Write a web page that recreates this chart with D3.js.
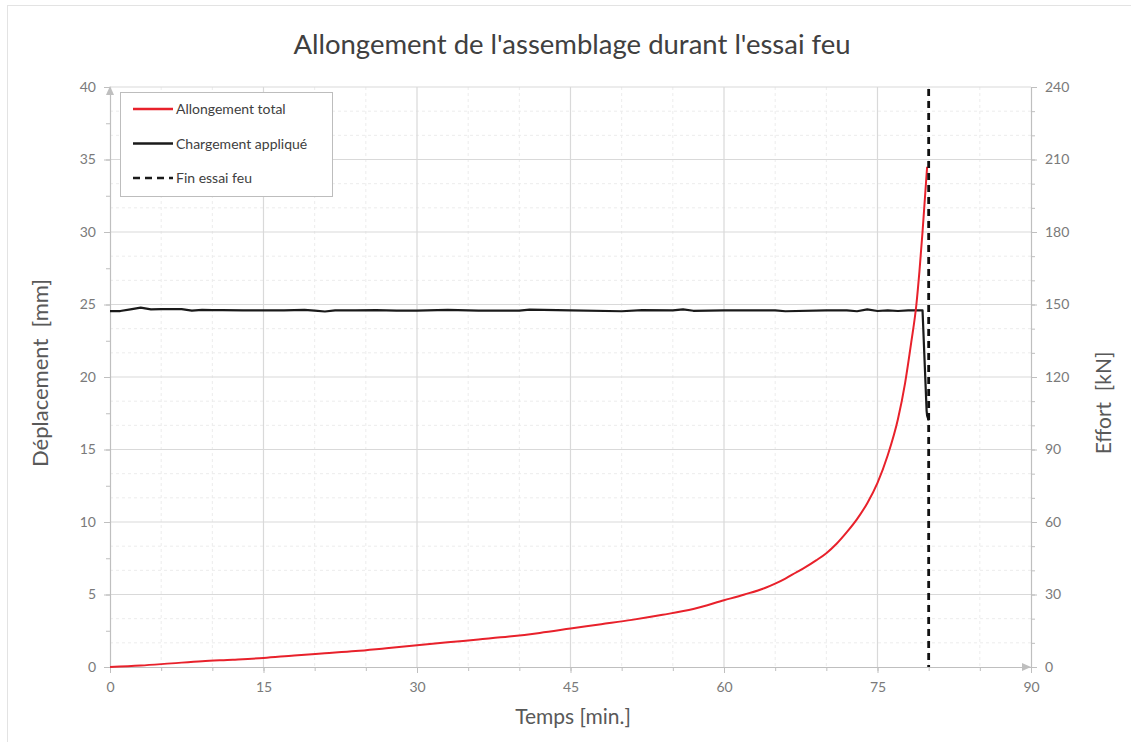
<!DOCTYPE html>
<html>
<head>
<meta charset="utf-8">
<script src="https://cdn.jsdelivr.net/npm/d3@7"></script>
<style>
  html, body { margin: 0; padding: 0; background: #ffffff; }
  svg { display: block; font-family: Lato, "Open Sans", sans-serif; }
</style>
</head>
<body>
<svg id="chart" width="1131" height="742"></svg>
<script>
// Total elongation of the assembly (mm) versus time (min)
const elongTime = [0, 3, 6, 9, 12, 15, 18, 21, 24, 27, 30, 33, 36, 39, 42, 45, 48, 51, 54, 57, 60,
  62, 64, 65, 66, 67, 68, 69, 70, 71, 72, 73, 74, 75, 76, 77, 77.7, 78.3, 78.8, 79.1, 79.4, 79.6, 79.85];
const elongation = [0, 0.1, 0.25, 0.4, 0.5, 0.62, 0.8, 0.95, 1.1, 1.3, 1.5, 1.7, 1.9, 2.1, 2.35, 2.65, 2.95, 3.25, 3.6, 4.0, 4.6,
  5.0, 5.45, 5.75, 6.1, 6.5, 6.9, 7.35, 7.85, 8.5, 9.3, 10.2, 11.3, 12.7, 14.6, 17.1, 19.6, 22.4, 25.0, 27.3, 30.0, 32.0, 34.5];

// Applied load (kN) versus time (min)
const loadTime = [0, 1, 2, 3, 4, 5, 7, 8, 9, 10, 11, 13, 15, 17, 19, 20, 21, 22, 24, 26, 28, 30, 33, 36, 40, 41, 45,
  50, 52, 55, 56, 57, 60, 65, 66, 70, 72, 73, 74, 75, 76, 77, 78, 79, 79.4, 79.8, 79.85, 80.0];
const load = [147.3, 147.3, 148.0, 148.7, 148.0, 148.1, 148.1, 147.5, 147.8, 147.7, 147.7, 147.6, 147.6, 147.6, 147.8, 147.5, 147.1, 147.6, 147.6, 147.7, 147.5, 147.5, 147.8, 147.5, 147.5, 147.9, 147.6,
  147.2, 147.7, 147.6, 148.0, 147.4, 147.6, 147.6, 147.2, 147.6, 147.6, 147.2, 148.0, 147.3, 147.6, 147.3, 147.6, 147.6, 147.6, 106, 104, 102];

// End of the fire test (min)
const fireEnd = [80];

// Axis ticks
const timeTicks = [0, 15, 30, 45, 60, 75, 90];
const dispTicks = [0, 5, 10, 15, 20, 25, 30, 35, 40];
const forceTicks = [0, 30, 60, 90, 120, 150, 180, 210, 240];

const legendItems = [
  { label: "Allongement total", color: "#e8212b", dash: null },
  { label: "Chargement appliqué", color: "#1a1a1a", dash: null },
  { label: "Fin essai feu", color: "#1a1a1a", dash: "7,5" }
];

const svg = d3.select("#chart");
const W = 1131, H = 742;
const plot = { left: 110, right: 1031, top: 87, bottom: 667 };

// chart frame
svg.append("rect").attr("x", 7.5).attr("y", 5.5).attr("width", W).attr("height", H)
  .attr("fill", "#fff").attr("stroke", "#e3e3e3").attr("stroke-width", 1);

const x = d3.scaleLinear().domain([0, 90]).range([plot.left, plot.right]);
const yL = d3.scaleLinear().domain([0, 40]).range([plot.bottom, plot.top]);
const yR = d3.scaleLinear().domain([0, 240]).range([plot.bottom, plot.top]);

const grid = svg.append("g");
// minor gridlines
grid.selectAll(".vmin").data(d3.range(5, 90, 5).filter(v => v % 15 !== 0)).join("line")
  .attr("x1", d => x(d)).attr("x2", d => x(d)).attr("y1", plot.top).attr("y2", plot.bottom)
  .attr("stroke", "#ececec").attr("stroke-dasharray", "3,3").attr("stroke-width", 1);
grid.selectAll(".hmin").data(d3.range(10, 240, 10).filter(v => v % 30 !== 0)).join("line")
  .attr("x1", plot.left).attr("x2", plot.right).attr("y1", d => yR(d)).attr("y2", d => yR(d))
  .attr("stroke", "#ececec").attr("stroke-dasharray", "3,3").attr("stroke-width", 1);
// major gridlines
grid.selectAll(".vmaj").data(timeTicks.filter(v => v > 0 && v < 90)).join("line")
  .attr("x1", d => x(d)).attr("x2", d => x(d)).attr("y1", plot.top).attr("y2", plot.bottom)
  .attr("stroke", "#d9d9d9").attr("stroke-width", 1.2);
grid.selectAll(".hmaj").data(dispTicks.filter(v => v > 0)).join("line")
  .attr("x1", plot.left).attr("x2", plot.right).attr("y1", d => yL(d)).attr("y2", d => yL(d))
  .attr("stroke", "#d9d9d9").attr("stroke-width", 1.2);

const axisColor = "#bfbfbf";
const tickText = "#7a7a7a";

function styleAxis(g) {
  g.select(".domain").attr("stroke", axisColor).attr("stroke-width", 1.2);
  g.selectAll(".tick line").attr("stroke", axisColor);
  g.selectAll(".tick text").attr("fill", tickText).attr("font-size", 14)
    .attr("font-family", "Lato, 'Open Sans', sans-serif");
}

// minor tick marks
const minorTicks = svg.append("g");
minorTicks.append("g").attr("transform", `translate(0,${plot.bottom})`)
  .call(d3.axisBottom(x).tickValues(d3.range(0, 91, 5)).tickSize(4).tickFormat(""))
  .call(g => { g.select(".domain").remove(); g.selectAll("line").attr("stroke", axisColor); });
minorTicks.append("g").attr("transform", `translate(${plot.left},0)`)
  .call(d3.axisLeft(yL).tickValues(d3.range(0, 40.1, 2.5)).tickSize(4).tickFormat(""))
  .call(g => { g.select(".domain").remove(); g.selectAll("line").attr("stroke", axisColor); });
minorTicks.append("g").attr("transform", `translate(${plot.right},0)`)
  .call(d3.axisRight(yR).tickValues(d3.range(0, 241, 10)).tickSize(4).tickFormat(""))
  .call(g => { g.select(".domain").remove(); g.selectAll("line").attr("stroke", axisColor); });

// main axes
svg.append("g").attr("transform", `translate(0,${plot.bottom})`)
  .call(d3.axisBottom(x).tickValues(timeTicks).tickSize(6).tickSizeOuter(0).tickPadding(9))
  .call(styleAxis);
svg.append("g").attr("transform", `translate(${plot.left},0)`)
  .call(d3.axisLeft(yL).tickValues(dispTicks).tickSize(6).tickSizeOuter(0).tickPadding(8))
  .call(styleAxis);
svg.append("g").attr("transform", `translate(${plot.right},0)`)
  .call(d3.axisRight(yR).tickValues(forceTicks).tickSize(6).tickSizeOuter(0).tickPadding(8))
  .call(styleAxis);

// axis arrow heads
svg.append("path")
  .attr("d", `M${plot.left - 4},${plot.top + 8} L${plot.left},${plot.top - 1} L${plot.left + 4},${plot.top + 8} Z`)
  .attr("fill", axisColor);
svg.append("path")
  .attr("d", `M${plot.right - 9},${plot.bottom - 4} L${plot.right},${plot.bottom} L${plot.right - 9},${plot.bottom + 4} Z`)
  .attr("fill", axisColor);

// series
const elongData = elongTime.map((t, i) => [t, elongation[i]]);
const loadData = loadTime.map((t, i) => [t, load[i]]);

svg.append("path").datum(loadData)
  .attr("d", d3.line().x(d => x(d[0])).y(d => yR(d[1])))
  .attr("fill", "none").attr("stroke", "#1a1a1a").attr("stroke-width", 2.2).attr("stroke-linejoin", "round");

svg.append("path").datum(elongData)
  .attr("d", d3.line().curve(d3.curveMonotoneX).x(d => x(d[0])).y(d => yL(d[1])))
  .attr("fill", "none").attr("stroke", "#e8212b").attr("stroke-width", 2).attr("stroke-linejoin", "round");

svg.selectAll(".fire-end").data(fireEnd).join("line")
  .attr("x1", d => x(d)).attr("x2", d => x(d)).attr("y1", plot.top + 2).attr("y2", plot.bottom)
  .attr("stroke", "#111").attr("stroke-width", 2.8).attr("stroke-dasharray", "7,5");

// legend
const lg = svg.append("g").attr("transform", "translate(120,92)");
lg.append("rect").attr("x", 0.5).attr("y", 0.5).attr("width", 212).attr("height", 104)
  .attr("fill", "#fff").attr("stroke", "#bdbdbd").attr("stroke-width", 1);
const rows = lg.selectAll(".row").data(legendItems).join("g")
  .attr("transform", (d, i) => `translate(0,${17 + i * 34.5})`);
rows.append("line").attr("x1", 13).attr("x2", 53).attr("y1", 0).attr("y2", 0)
  .attr("stroke", d => d.color).attr("stroke-width", 2.4)
  .attr("stroke-dasharray", d => d.dash);
rows.append("text").attr("x", 56).attr("y", 5).attr("font-size", 14).attr("fill", "#404040")
  .text(d => d.label);

// titles
svg.append("text").attr("x", 572).attr("y", 54).attr("text-anchor", "middle")
  .attr("font-size", 27.5).attr("fill", "#404040")
  .text("Allongement de l'assemblage durant l'essai feu");
svg.append("text").attr("x", 573).attr("y", 724).attr("text-anchor", "middle")
  .attr("font-size", 21).attr("fill", "#595959").text("Temps [min.]");
svg.append("text").attr("transform", "translate(48,373) rotate(-90)").attr("text-anchor", "middle")
  .attr("font-size", 22).attr("fill", "#595959").attr("xml:space", "preserve").text("Déplacement  [mm]");
svg.append("text").attr("transform", "translate(1111,403) rotate(-90)").attr("text-anchor", "middle")
  .attr("font-size", 21).attr("fill", "#595959").attr("xml:space", "preserve").text("Effort  [kN]");
</script>
</body>
</html>
